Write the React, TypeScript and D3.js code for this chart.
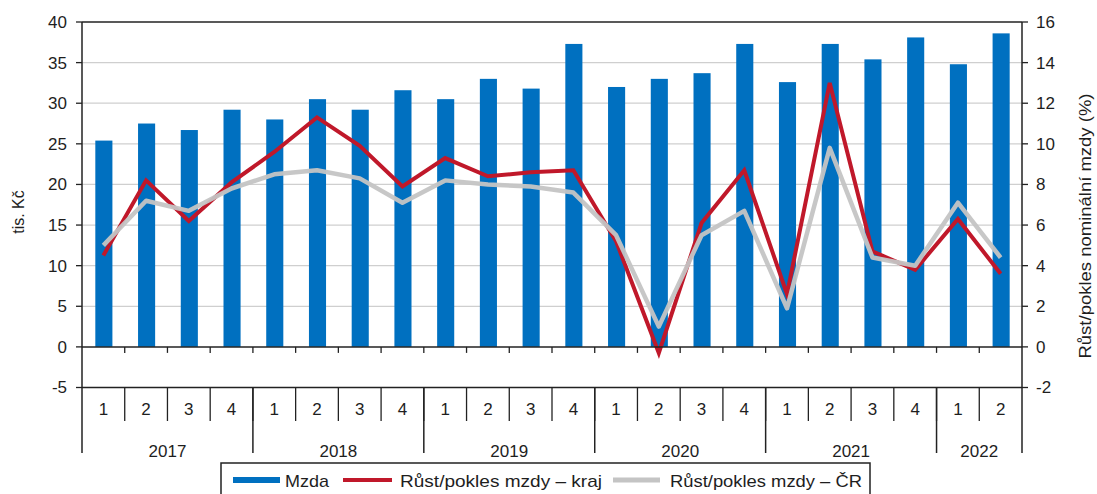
import React from "react";
import * as d3 from "d3";

const years = ["2017", "2018", "2019", "2020", "2021", "2022"];
const quarters = ["1","2","3","4","1","2","3","4","1","2","3","4","1","2","3","4","1","2","3","4","1","2"];
const yearSpans = [4, 4, 4, 4, 4, 2];
const mzda = [25.4, 27.5, 26.7, 29.2, 28.0, 30.5, 29.2, 31.6, 30.5, 33.0, 31.8, 37.3, 32.0, 33.0, 33.7, 37.3, 32.6, 37.3, 35.4, 38.1, 34.8, 38.6];
const rustKraj = [4.5, 8.2, 6.2, 8.1, 9.6, 11.3, 9.9, 7.9, 9.3, 8.4, 8.6, 8.7, 5.2, -0.3, 6.1, 8.7, 2.6, 13.0, 4.7, 3.8, 6.3, 3.6];
const rustCR = [5.0, 7.2, 6.7, 7.8, 8.5, 8.7, 8.3, 7.1, 8.2, 8.0, 7.9, 7.6, 5.5, 1.0, 5.5, 6.7, 1.9, 9.8, 4.4, 4.0, 7.1, 4.4];
const leftTicks = [-5, 0, 5, 10, 15, 20, 25, 30, 35, 40];
const rightTicks = [-2, 0, 2, 4, 6, 8, 10, 12, 14, 16];

const BLUE = "#0070C0";
const RED = "#C0182A";
const GREY = "#C4C4C4";
const FONT = "'Liberation Sans', Arial, sans-serif";
const TXT = "#1e1e1e";

export default function App() {
  const L = 82, R = 1022, T = 22, B = 387.5;
  const idx = mzda.map((_, i) => i);
  const x = d3.scaleBand<number>().domain(idx).range([L, R]).padding(0);
  const bw = x.bandwidth();
  const yL = d3.scaleLinear().domain([-5, 40]).range([B, T]);
  const yR = d3.scaleLinear().domain([-2, 16]).range([B, T]);
  const cx = (i: number) => (x(i) as number) + bw / 2;
  const line = d3.line<number>().x((_, i) => cx(i)).y((d) => yR(d));
  const barW = bw * 0.4;

  const yearBounds: number[] = [];
  let acc = 0;
  yearSpans.forEach((s) => { yearBounds.push(acc); acc += s; });

  return (
    <svg width={1097} height={494} style={{ position: "absolute", left: 0, top: 0, background: "#fff" }}
      fontFamily={FONT}>
      {/* gridlines */}
      {leftTicks.filter((t) => t !== 0 && t !== -5 && t !== 40).map((t) => (
        <line key={"g" + t} x1={L} x2={R} y1={yL(t)} y2={yL(t)} stroke="#cfcfcf" strokeWidth={1.3} />
      ))}
      {/* bars */}
      {mzda.map((v, i) => (
        <rect key={"b" + i} x={cx(i) - barW / 2 + 0.5} y={yL(v)} width={barW} height={yL(0) - yL(v)} fill={BLUE} />
      ))}
      {/* lines */}
      <path d={line(rustKraj) || ""} fill="none" stroke={RED} strokeWidth={4} strokeLinejoin="miter" />
      <path d={line(rustCR) || ""} fill="none" stroke={GREY} strokeWidth={4.5} strokeLinejoin="round" opacity={0.95} />

      {/* frame */}
      <line x1={L} x2={R} y1={T} y2={T} stroke="#222" strokeWidth={1.5} />
      <line x1={L} x2={R} y1={yL(0)} y2={yL(0)} stroke="#222" strokeWidth={1.5} />
      <line x1={L} x2={R} y1={B} y2={B} stroke="#222" strokeWidth={1.5} />
      <line x1={L} x2={L} y1={T} y2={453} stroke="#222" strokeWidth={1.5} />
      <line x1={R} x2={R} y1={T} y2={453} stroke="#222" strokeWidth={1.5} />

      {/* zero-line ticks */}
      {idx.slice(1).map((i) => (
        <line key={"zt" + i} x1={x(i) as number} x2={x(i) as number} y1={yL(0)} y2={yL(0) + 6} stroke="#222" strokeWidth={1.3} />
      ))}

      {/* left axis */}
      {leftTicks.map((t) => (
        <g key={"l" + t}>
          <line x1={L - 6} x2={L} y1={yL(t)} y2={yL(t)} stroke="#222" strokeWidth={1.3} />
          <text x={67} y={yL(t)} dy="0.35em" textAnchor="end" fontSize={17} fill={TXT}>{t}</text>
        </g>
      ))}
      {/* right axis */}
      {rightTicks.map((t) => (
        <g key={"r" + t}>
          <line x1={R} x2={R + 6} y1={yR(t)} y2={yR(t)} stroke="#222" strokeWidth={1.3} />
          <text x={1036} y={yR(t)} dy="0.35em" textAnchor="start" fontSize={17} fill={TXT}>{t}</text>
        </g>
      ))}
      <text transform={`translate(24,212) rotate(-90)`} textAnchor="middle" fontSize={16} fill={TXT}>tis. Kč</text>
      <text transform={`translate(1091,226) rotate(-90)`} textAnchor="middle" fontSize={16.5} fill={TXT}
        textLength={265} lengthAdjust="spacingAndGlyphs">Růst/pokles nominální mzdy (%)</text>

      {/* category axis */}
      {idx.slice(1).map((i) => (
        <line key={"qs" + i} x1={x(i) as number} x2={x(i) as number} y1={B} y2={421} stroke="#222" strokeWidth={1.3} />
      ))}
      {quarters.map((q, i) => (
        <text key={"q" + i} x={cx(i)} y={415} textAnchor="middle" fontSize={17} fill={TXT}>{q}</text>
      ))}
      {yearBounds.slice(1).map((b, k) => (
        <line key={"ys" + k} x1={x(b) as number} x2={x(b) as number} y1={B} y2={453} stroke="#222" strokeWidth={1.5} />
      ))}
      {years.map((yv, k) => {
        const s = yearBounds[k];
        const e = s + yearSpans[k] - 1;
        const mid = ((x(s) as number) + (x(e) as number) + bw) / 2;
        return <text key={"y" + yv} x={mid} y={457} textAnchor="middle" fontSize={17} fill={TXT}>{yv}</text>;
      })}

      {/* legend */}
      <rect x={221} y={463} width={649} height={40} fill="#fff" stroke="#222" strokeWidth={1.5} />
      <line x1={233} x2={280} y1={480} y2={480} stroke={BLUE} strokeWidth={6} />
      <text x={285} y={487} fontSize={17} fill={TXT} textLength={44} lengthAdjust="spacingAndGlyphs">Mzda</text>
      <line x1={343} x2={392} y1={480} y2={480} stroke={RED} strokeWidth={4} />
      <text x={400} y={487} fontSize={17} fill={TXT} textLength={202} lengthAdjust="spacingAndGlyphs">Růst/pokles mzdy – kraj</text>
      <line x1={613} x2={660} y1={480} y2={480} stroke={GREY} strokeWidth={5} />
      <text x={670} y={487} fontSize={17} fill={TXT} textLength={192} lengthAdjust="spacingAndGlyphs">Růst/pokles mzdy – ČR</text>
    </svg>
  );
}
